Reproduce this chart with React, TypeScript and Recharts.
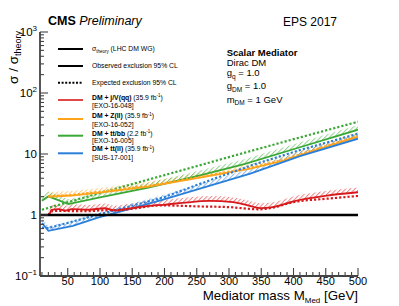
import React from 'react';
import { ComposedChart, Line, Area, XAxis, YAxis, ReferenceLine } from 'recharts';

const W = 399;
const H = 306;
const FONT = '"Liberation Sans", Arial, Helvetica, sans-serif';
const AXIS = '#444';
const RED = '#d7191c';
const ORANGE = '#ffa31a';
const GREEN = '#3aa835';
const BLUE = '#2a7fd9';
const HATCH_FACTOR = 1.2;

// ---- data: DM + j/V(qq) [EXO-16-048]
const redObsMass = [20, 22, 25, 36, 47, 56, 82, 107, 124, 139, 159, 180, 198, 228, 270, 306, 328, 348, 368, 400, 452, 500];
const redObsVal = [0.98, 1.05, 1.21, 1.25, 1.18, 1.25, 1.22, 1.29, 1.18, 1.25, 1.34, 1.43, 1.47, 1.58, 1.7, 1.62, 1.45, 1.3, 1.35, 1.68, 2.08, 2.36];
const redExpMass = [20, 25, 38, 58, 83, 108, 128, 158, 193, 255, 297, 348, 368, 400, 452, 500];
const redExpVal = [1.0, 1.15, 1.17, 1.16, 1.16, 1.2, 1.2, 1.3, 1.44, 1.38, 1.35, 1.24, 1.32, 1.63, 1.85, 2.05];

// ---- DM + Z(ll) [EXO-16-052]
const orangeMass = [20, 56, 100, 175, 255, 333, 384, 441, 500];
const orangeObsVal = [1.99, 2.07, 2.32, 2.91, 4.09, 5.74, 7.75, 12.2, 19.2];
const orangeExpVal = [2.05, 2.12, 2.4, 3.0, 4.2, 5.9, 8.0, 12.6, 19.8];

// ---- DM + tt/bb [EXO-16-005]
const greenObsMass = [10, 20, 51, 100, 175, 255, 325, 410, 500];
const greenObsVal = [1.72, 2.02, 1.51, 1.95, 2.8, 4.46, 6.9, 12.9, 25.0];
const greenExpMass = [10, 100, 200, 300, 400, 500];
const greenExpVal = [1.22, 2.29, 4.5, 8.9, 17.5, 33.8];

// ---- DM + tt(ll) [SUS-17-001]
const blueObsMass = [10, 20, 58, 98, 148, 198, 255, 333, 410, 500];
const blueObsVal = [0.74, 0.55, 0.665, 0.917, 1.27, 1.78, 2.71, 4.76, 9.2, 17.8];
const blueExpMass = [10, 20, 98, 148, 198, 255, 333, 410, 500];
const blueExpVal = [0.62, 0.61, 1.02, 1.4, 1.94, 3.24, 6.43, 11.6, 21.5];

// ---- axes
const xDomain = [7, 500];
const xMajor = [50, 100, 150, 200, 250, 300, 350, 400, 450, 500];
const xAllTicks: number[] = [];
for (let m = 10; m <= 500; m += 10) xAllTicks.push(m);
const yDomain = [0.1, 1000];
const yMajor = [0.1, 1, 10, 100, 1000];
const yTickBase = ['10', '1', '10', '10', '10'];
const yTickExp = ['\u22121', '', '', '2', '3'];
const yAllTicks: number[] = [];
[0.1, 1, 10, 100].forEach((d) => {
  for (let k = 1; k <= 9; k++) yAllTicks.push(+(d * k).toPrecision(3));
});
yAllTicks.push(1000);

const pts = (ms: number[], vs: number[]) => ms.map((m, i) => ({ m, v: vs[i] }));
const band = (ms: number[], vs: number[]) => ms.map((m, i) => ({ m, b: [vs[i], vs[i] * HATCH_FACTOR] }));

const isMajorY = (v: number) => yMajor.some((t) => Math.abs(t - v) < 1e-9);

const LeftTick = (p: any) => {
  const { x, y, payload } = p;
  const v = payload.value;
  const idx = yMajor.findIndex((t) => Math.abs(t - v) < 1e-9);
  const major = idx >= 0;
  return (
    <g>
      <line x1={x} x2={x + (major ? 8 : 4)} y1={y} y2={y} stroke={AXIS} strokeWidth={1.1} />
      {major && (
        <text x={x - 3} y={y + 4} textAnchor="end" fontSize={11.5} fontFamily={FONT} fill="#000">
          {yTickBase[idx]}
          {yTickExp[idx] && (
            <tspan dy={-5} fontSize={8}>
              {yTickExp[idx]}
            </tspan>
          )}
        </text>
      )}
    </g>
  );
};

const RightTick = (p: any) => {
  const { x, y, payload } = p;
  const major = isMajorY(payload.value);
  return <line x1={x} x2={x - (major ? 8 : 4)} y1={y} y2={y} stroke={AXIS} strokeWidth={1.1} />;
};

const BottomTick = (p: any) => {
  const { x, y, payload } = p;
  const v = payload.value;
  const major = xMajor.includes(v);
  return (
    <g>
      <line x1={x} x2={x} y1={y} y2={y - (major ? 8 : 4)} stroke={AXIS} strokeWidth={1.1} />
      {major && (
        <text x={x} y={y + 9.3} textAnchor="middle" fontSize={11} fontFamily={FONT} fill="#000">
          {v}
        </text>
      )}
    </g>
  );
};

const TopTick = (p: any) => {
  const { x, y, payload } = p;
  const major = xMajor.includes(payload.value);
  return <line x1={x} x2={x} y1={y} y2={y + (major ? 8 : 4)} stroke={AXIS} strokeWidth={1.1} />;
};

const Hatch = ({ id, color }: { id: string; color: string }) => (
  <pattern id={id} width={3.2} height={3.2} patternUnits="userSpaceOnUse" patternTransform="rotate(45)">
    <line x1={0.5} y1={0} x2={0.5} y2={3.2} stroke={color} strokeWidth={1} strokeOpacity={0.9} />
  </pattern>
);

const DOT = '2.2 2';

export default function App() {
  const common = { xAxisId: 'x', yAxisId: 'y', isAnimationActive: false, dot: false, activeDot: false } as any;
  const areaCommon = { xAxisId: 'x', yAxisId: 'y', isAnimationActive: false, stroke: 'none', dataKey: 'b' } as any;
  const lg = { fontFamily: FONT, fontSize: 6.8, fill: '#000' };
  const rb = { fontFamily: FONT, fontSize: 9.5, fill: '#000' };
  return (
    <div style={{ position: 'absolute', left: 0, top: 0, width: W, height: H, background: '#fff' }}>
      <ComposedChart width={W} height={H} margin={{ top: 32, right: 41, bottom: 0, left: 0 }}>
        <defs>
          <Hatch id="hRed" color={RED} />
          <Hatch id="hOrange" color={ORANGE} />
          <Hatch id="hGreen" color={GREEN} />
          <Hatch id="hBlue" color={BLUE} />
        </defs>
        <XAxis xAxisId="x" type="number" dataKey="m" domain={xDomain} allowDataOverflow ticks={xAllTicks} interval={0}
          orientation="bottom" height={30} tickSize={0} tickMargin={0} tickLine={false} tick={<BottomTick />}
          axisLine={{ stroke: AXIS, strokeWidth: 1.8 }} />
        <XAxis xAxisId="xt" type="number" dataKey="m" domain={xDomain} allowDataOverflow ticks={xAllTicks} interval={0}
          orientation="top" height={0} tickSize={0} tickMargin={0} tickLine={false} tick={<TopTick />}
          axisLine={{ stroke: AXIS, strokeWidth: 1.8 }} />
        <YAxis yAxisId="y" type="number" scale="log" domain={yDomain} allowDataOverflow ticks={yAllTicks} interval={0}
          orientation="left" width={40} tickSize={0} tickMargin={0} tickLine={false} tick={<LeftTick />}
          axisLine={{ stroke: AXIS, strokeWidth: 1.8 }} />
        <YAxis yAxisId="yr" type="number" scale="log" domain={yDomain} allowDataOverflow ticks={yAllTicks} interval={0}
          orientation="right" width={0} tickSize={0} tickMargin={0} tickLine={false} tick={<RightTick />}
          axisLine={{ stroke: AXIS, strokeWidth: 1.8 }} />

        <Area {...areaCommon} data={band(redObsMass, redObsVal)} type="monotone" fill="url(#hRed)" />
        <Area {...areaCommon} data={band(orangeMass, orangeObsVal)} type="linear" fill="url(#hOrange)" />
        <Area {...areaCommon} data={band(greenObsMass, greenObsVal)} type="linear" fill="url(#hGreen)" />
        <Area {...areaCommon} data={band(blueObsMass, blueObsVal)} type="linear" fill="url(#hBlue)" />

        <Line {...common} data={pts(greenExpMass, greenExpVal)} dataKey="v" type="linear" stroke={GREEN} strokeWidth={2.2} strokeDasharray={DOT} />
        <Line {...common} data={pts(greenObsMass, greenObsVal)} dataKey="v" type="linear" stroke={GREEN} strokeWidth={1.8} />
        <Line {...common} data={pts(orangeMass, orangeExpVal)} dataKey="v" type="linear" stroke={ORANGE} strokeWidth={2.2} strokeDasharray={DOT} />
        <Line {...common} data={pts(orangeMass, orangeObsVal)} dataKey="v" type="linear" stroke={ORANGE} strokeWidth={1.8} />
        <Line {...common} data={pts(blueExpMass, blueExpVal)} dataKey="v" type="linear" stroke={BLUE} strokeWidth={2.2} strokeDasharray={DOT} />
        <Line {...common} data={pts(blueObsMass, blueObsVal)} dataKey="v" type="linear" stroke={BLUE} strokeWidth={1.8} />
        <Line {...common} data={pts(redExpMass, redExpVal)} dataKey="v" type="monotone" stroke={RED} strokeWidth={2.2} strokeDasharray={DOT} />
        <Line {...common} data={pts(redObsMass, redObsVal)} dataKey="v" type="monotone" stroke={RED} strokeWidth={1.8} />
        <ReferenceLine xAxisId="x" yAxisId="y" y={1} stroke="#000" strokeWidth={2.4} />
      </ComposedChart>

      <svg width={W} height={H} style={{ position: 'absolute', left: 0, top: 0, pointerEvents: 'none' }}>
        {/* header */}
        <text x={48} y={25} fontFamily={FONT} fontSize={12.5} fill="#000">
          <tspan fontWeight="bold">CMS</tspan>
          <tspan fontStyle="italic"> Preliminary</tspan>
        </text>
        <text x={337} y={26} textAnchor="end" fontFamily={FONT} fontSize={12} fill="#000">EPS 2017</text>

        {/* axis titles */}
        <text transform="translate(17.5,31) rotate(-90)" textAnchor="end" fontFamily={FONT} fontSize={13.5} fill="#000">
          σ / σ<tspan fontSize={9} dy={3}>theory</tspan>
        </text>
        <text x={358} y={299.5} textAnchor="end" fontFamily={FONT} fontSize={13.3} fill="#000">
          Mediator mass M<tspan fontSize={8} dy={3}>Med</tspan>
          <tspan dy={-3}> [GeV]</tspan>
        </text>

        {/* legend */}
        <line x1={58} x2={83} y1={49} y2={49} stroke="#000" strokeWidth={2} />
        <text x={92} y={51} {...lg}>
          σ<tspan fontSize={4.5} dy={1.5}>theory</tspan>
          <tspan dy={-1.5}> (LHC DM WG)</tspan>
        </text>
        <line x1={58} x2={83} y1={66} y2={66} stroke="#000" strokeWidth={2} />
        <text x={92} y={68.4} {...lg}>Observed exclusion 95% CL</text>
        <line x1={58} x2={83} y1={82.7} y2={82.7} stroke="#000" strokeWidth={2} strokeDasharray="2 1.6" />
        <text x={92} y={85} {...lg}>Expected exclusion 95% CL</text>

        <line x1={58} x2={83} y1={100} y2={100} stroke={RED} strokeOpacity={0.8} strokeWidth={2} />
        <text x={92} y={99.7} {...lg}>
          <tspan fontWeight="bold">DM + j/V(qq)</tspan> (35.9 fb<tspan fontSize={4.5} dy={-2.5}>-1</tspan>
          <tspan dy={2.5}>)</tspan>
        </text>
        <text x={92} y={108.1} {...lg}>[EXO-16-048]</text>

        <line x1={58} x2={83} y1={119} y2={119} stroke={ORANGE} strokeWidth={2} />
        <text x={92} y={118.4} {...lg}>
          <tspan fontWeight="bold">DM + Z(ll)</tspan> (35.9 fb<tspan fontSize={4.5} dy={-2.5}>-1</tspan>
          <tspan dy={2.5}>)</tspan>
        </text>
        <text x={92} y={127.4} {...lg}>[EXO-16-052]</text>

        <line x1={58} x2={83} y1={135.7} y2={135.7} stroke={GREEN} strokeWidth={2} />
        <text x={92} y={135.7} {...lg}>
          <tspan fontWeight="bold">DM + tt/bb</tspan> (2.2 fb<tspan fontSize={4.5} dy={-2.5}>-1</tspan>
          <tspan dy={2.5}>)</tspan>
        </text>
        <text x={92} y={143.1} {...lg}>[EXO-16-005]</text>

        <line x1={58} x2={83} y1={153.3} y2={153.3} stroke={BLUE} strokeWidth={2} />
        <text x={92} y={151.1} {...lg}>
          <tspan fontWeight="bold">DM + tt(ll)</tspan> (35.9 fb<tspan fontSize={4.5} dy={-2.5}>-1</tspan>
          <tspan dy={2.5}>)</tspan>
        </text>
        <text x={92} y={159.7} {...lg}>[SUS-17-001]</text>

        {/* model box */}
        <text x={226.7} y={55.7} {...rb} fontWeight="bold">Scalar Mediator</text>
        <text x={226.7} y={66.1} {...rb}>Dirac DM</text>
        <text x={226.7} y={76.1} {...rb}>
          g<tspan fontSize={6.5} dy={2.5}>q</tspan>
          <tspan dy={-2.5}> = 1.0</tspan>
        </text>
        <text x={226.7} y={89.4} {...rb}>
          g<tspan fontSize={6.5} dy={2.5}>DM</tspan>
          <tspan dy={-2.5}> = 1.0</tspan>
        </text>
        <text x={226.7} y={102.7} {...rb}>
          m<tspan fontSize={6.5} dy={2.5}>DM</tspan>
          <tspan dy={-2.5}> = 1 GeV</tspan>
        </text>
      </svg>
    </div>
  );
}
